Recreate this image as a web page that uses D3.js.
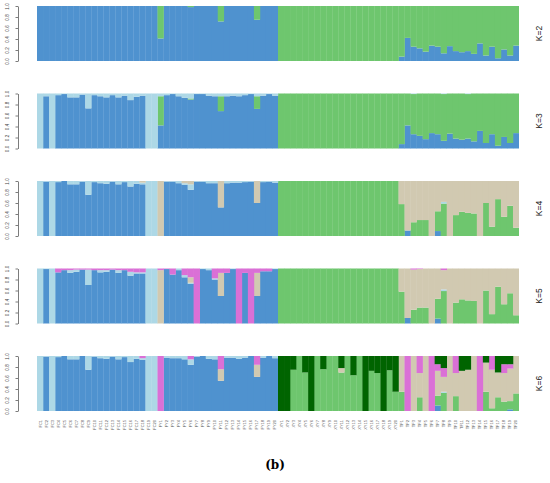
<!DOCTYPE html>
<html>
<head>
<meta charset="utf-8">
<script src="https://cdn.jsdelivr.net/npm/d3@7"></script>
<style>
  body { margin: 0; background: #fff; }
</style>
</head>
<body>
<div id="chart"></div>
<script>
// sample ids, in plot order
const sampleNames = [
  "FC1","FC2","FC3","FC4","FC5","FC6","FC7","FC8","FC9","FC10",
  "FC11","FC12","FC13","FC14","FC15","FC16","FC17","FC18","FC19","FC20",
  "FY1","FY2","FY3","FY4","FY5","FY6","FY7","FY8","FY9","FY10",
  "FY11","FY12","FY13","FY14","FY15","FY16","FY17","FY18","FY19","FY20",
  "XY1","XY2","XY3","XY4","XY5","XY6","XY7","XY8","XY9","XY10",
  "XY11","XY12","XY13","XY14","XY15","XY16","XY17","XY18","XY19","XY20",
  "TF1","TF2","TF3","TF4","TF5","TF6","TF7","TF8","TF9","TF10",
  "TF11","TF12","TF13","TF14","TF15","TF16","TF17","TF18","TF19","TF20"
];

const kValues = [2, 3, 4, 5, 6];

// cluster order (bottom -> top): blue, green, light blue, tan, pink, dark green
const clusterColors = ["#4f92cf", "#6ec66e", "#add8e6", "#d1c9b1", "#da70d6", "#006400"];

// membership coefficients, one row per sample
const q2 = [
  [1,0],[1,0],[1,0],[1,0],[1,0],[1,0],[1,0],[1,0],[1,0],[1,0],
  [1,0],[1,0],[1,0],[1,0],[1,0],[1,0],[1,0],[1,0],[1,0],[1,0],
  [0.41,0.59],[1,0],[1,0],[1,0],[1,0],[0.98,0.02],[1,0],[1,0],[1,0],[1,0],
  [0.72,0.28],[1,0],[1,0],[1,0],[1,0],[1,0],[0.75,0.25],[1,0],[1,0],[1,0],
  [0,1],[0,1],[0,1],[0,1],[0,1],[0,1],[0,1],[0,1],[0,1],[0,1],
  [0,1],[0,1],[0,1],[0,1],[0,1],[0,1],[0,1],[0,1],[0,1],[0,1],
  [0.08,0.92],[0.42,0.58],[0.26,0.74],[0.23,0.77],[0.17,0.83],[0.28,0.72],[0.26,0.74],[0.14,0.86],[0.27,0.73],[0.18,0.82],
  [0.16,0.84],[0.18,0.82],[0.13,0.87],[0.32,0.68],[0.10,0.90],[0.26,0.74],[0.05,0.95],[0.21,0.79],[0.10,0.90],[0.28,0.72]
];

const q3 = [
  [0,0,1],[0.95,0,0.05],[0,0,1],[0.97,0,0.03],[0.99,0,0.01],[0.93,0,0.07],[0.93,0,0.07],[0.98,0,0.02],[0.73,0,0.27],[0.97,0,0.03],
  [0.95,0,0.05],[0.93,0,0.07],[0.97,0,0.03],[0.93,0,0.07],[0.96,0,0.04],[0.88,0,0.12],[0.94,0,0.06],[0.96,0,0.04],[0,0,1],[0,0,1],
  [0.42,0.53,0.05],[0.97,0,0.03],[0.99,0,0.01],[0.95,0,0.05],[0.92,0,0.08],[0.89,0.02,0.09],[0.99,0,0.01],[0.99,0,0.01],[0.96,0,0.04],[0.95,0,0.05],
  [0.68,0.27,0.05],[0.95,0,0.05],[0.96,0,0.04],[0.95,0,0.05],[0.97,0,0.03],[0.99,0,0.01],[0.72,0.23,0.05],[0.96,0,0.04],[0.99,0,0.01],[0.96,0,0.04],
  [0,1,0],[0,1,0],[0,1,0],[0,1,0],[0,1,0],[0,1,0],[0,1,0],[0,1,0],[0,1,0],[0,1,0],
  [0,1,0],[0,1,0],[0,1,0],[0,1,0],[0,1,0],[0,1,0],[0,1,0],[0,1,0],[0,1,0],[0,1,0],
  [0.08,0.92,0],[0.42,0.58,0],[0.26,0.73,0.01],[0.23,0.77,0],[0.17,0.83,0],[0.28,0.72,0],[0.26,0.74,0],[0.14,0.85,0.01],[0.27,0.73,0],[0.18,0.82,0],
  [0.16,0.84,0],[0.18,0.81,0.01],[0.13,0.87,0],[0.32,0.68,0],[0.10,0.90,0],[0.26,0.74,0],[0.05,0.95,0],[0.21,0.79,0],[0.10,0.90,0],[0.28,0.72,0]
];

const q4 = [
  [0,0,1,0],[0.99,0,0.01,0],[0,0,1,0],[0.98,0,0.02,0],[1,0,0,0],[0.94,0,0.06,0],[0.94,0,0.06,0],[0.99,0,0.01,0],[0.75,0,0.25,0],[0.98,0,0.02,0],
  [0.96,0,0.04,0],[0.95,0,0.05,0],[0.99,0,0.01,0],[0.94,0,0.06,0],[0.98,0,0.02,0],[0.90,0,0.10,0],[0.95,0,0.05,0],[0.94,0,0.03,0.03],[0,0,1,0],[0,0,1,0],
  [0,0,0,1],[0.99,0,0.01,0],[0.99,0,0.01,0],[0.96,0,0.04,0],[0.93,0,0.03,0.04],[0.84,0,0.10,0.06],[0.99,0,0.01,0],[0.99,0,0.01,0],[0.96,0,0.04,0],[0.96,0,0.04,0],
  [0.52,0,0,0.48],[0.96,0,0.04,0],[0.97,0,0.03,0],[0.97,0,0.03,0],[0.98,0,0.02,0],[0.99,0,0.01,0],[0.60,0,0,0.40],[0.98,0,0.02,0],[0.99,0,0.01,0],[0.97,0,0.03,0],
  [0,1,0,0],[0,1,0,0],[0,1,0,0],[0,1,0,0],[0,1,0,0],[0,1,0,0],[0,1,0,0],[0,1,0,0],[0,1,0,0],[0,1,0,0],
  [0,1,0,0],[0,1,0,0],[0,1,0,0],[0,1,0,0],[0,1,0,0],[0,1,0,0],[0,1,0,0],[0,1,0,0],[0,1,0,0],[0,1,0,0],
  [0,0.58,0,0.42],[0.10,0,0,0.90],[0,0.25,0,0.75],[0,0.29,0,0.71],[0,0.29,0,0.71],[0,0,0,1],[0.09,0.36,0,0.55],[0,0.59,0.03,0.38],[0,0,0,1],[0,0.38,0,0.62],
  [0,0.44,0,0.56],[0,0.42,0,0.58],[0,0.41,0,0.59],[0,0,0,1],[0,0.60,0,0.40],[0,0.17,0,0.83],[0,0.67,0,0.33],[0,0.35,0,0.65],[0,0.55,0,0.45],[0,0.15,0,0.85]
];

const q5 = [
  [0,0,1,0,0],[0.99,0,0.01,0,0],[0,0,1,0,0],[0.93,0,0,0,0.07],[0.97,0,0,0,0.03],[0.92,0,0.05,0,0.03],[0.94,0,0.04,0,0.02],[0.98,0,0,0,0.02],[0.70,0,0.28,0,0.02],[0.97,0,0,0,0.03],
  [0.93,0,0.04,0,0.03],[0.94,0,0.03,0,0.03],[0.98,0,0,0,0.02],[0.92,0,0.05,0,0.03],[0.97,0,0,0,0.03],[0.87,0,0.07,0,0.06],[0.91,0,0.02,0,0.07],[0.91,0,0.02,0,0.07],[0,0,1,0,0],[0,0,1,0,0],
  [0,0,0,0.97,0.03],[0.99,0,0,0,0.01],[0.89,0,0,0,0.11],[0.97,0,0.03,0,0],[0.84,0,0.04,0,0.12],[0.72,0,0.02,0.10,0.16],[0,0,0,0,1],[0.99,0,0.01,0,0],[0.97,0,0.03,0,0],[0.80,0,0.02,0,0.18],
  [0.50,0,0,0.42,0.08],[0.92,0,0,0,0.08],[0.99,0,0.01,0,0],[0,0,0,0,1],[0.92,0,0,0,0.08],[0,0,0,0,1],[0.50,0,0,0.42,0.08],[0.95,0,0,0,0.05],[0.95,0,0,0,0.05],[0.99,0,0.01,0,0],
  [0,1,0,0,0],[0,1,0,0,0],[0,1,0,0,0],[0,1,0,0,0],[0,1,0,0,0],[0,1,0,0,0],[0,1,0,0,0],[0,1,0,0,0],[0,1,0,0,0],[0,1,0,0,0],
  [0,1,0,0,0],[0,1,0,0,0],[0,1,0,0,0],[0,1,0,0,0],[0,1,0,0,0],[0,1,0,0,0],[0,1,0,0,0],[0,1,0,0,0],[0,1,0,0,0],[0,1,0,0,0],
  [0,0.58,0,0.42,0],[0.10,0,0,0.90,0],[0,0.25,0,0.73,0.02],[0,0.29,0,0.70,0.01],[0,0.29,0,0.71,0],[0,0,0,1,0],[0.09,0.36,0,0.55,0],[0,0.59,0.03,0.35,0.03],[0,0,0,1,0],[0,0.38,0,0.62,0],
  [0,0.44,0,0.56,0],[0,0.42,0,0.58,0],[0,0.41,0,0.59,0],[0,0,0,1,0],[0,0.60,0,0.40,0],[0,0.17,0,0.83,0],[0,0.67,0,0.33,0],[0,0.35,0,0.65,0],[0,0.55,0,0.45,0],[0,0.15,0,0.85,0]
];

const q6 = [
  [0,0,1,0,0,0],[0.99,0,0.01,0,0,0],[0,0,1,0,0,0],[0.98,0,0.02,0,0,0],[1,0,0,0,0,0],[0.94,0,0.06,0,0,0],[0.94,0,0.06,0,0,0],[1,0,0,0,0,0],[0.75,0,0.25,0,0,0],[0.99,0,0.01,0,0,0],
  [0.96,0,0.04,0,0,0],[0.95,0,0.05,0,0,0],[0.99,0,0.01,0,0,0],[0.94,0,0.06,0,0,0],[0.98,0,0.02,0,0,0],[0.89,0,0.11,0,0,0],[0.95,0,0.05,0,0,0],[0.93,0,0.03,0,0.04,0],[0,0,1,0,0,0],[0,0,1,0,0,0],
  [0,0,0,0,1,0],[0.97,0,0.03,0,0,0],[0.96,0,0.04,0,0,0],[0.96,0,0.04,0,0,0],[0.94,0,0.06,0,0,0],[0.84,0,0.10,0,0.06,0],[0.99,0,0.01,0,0,0],[1,0,0,0,0,0],[0.95,0,0.05,0,0,0],[0.94,0,0.06,0,0,0],
  [0.55,0,0,0.21,0.24,0],[0.97,0,0.03,0,0,0],[0.97,0,0.03,0,0,0],[0.95,0,0.05,0,0,0],[0.97,0,0.03,0,0,0],[1,0,0,0,0,0],[0.62,0,0,0.22,0.16,0],[0.97,0,0.03,0,0,0],[1,0,0,0,0,0],[0.96,0,0.04,0,0,0],
  [0,0,0,0,0,1],[0,0,0,0,0,1],[0,0.75,0,0,0,0.25],[0,1,0,0,0,0],[0,0.70,0,0,0,0.30],[0,0,0,0,0,1],[0,1,0,0,0,0],[0,0.76,0,0,0,0.24],[0,1,0,0,0,0],[0,1,0,0,0,0],
  [0,0.70,0,0.08,0,0.22],[0,1,0,0,0,0],[0,0.65,0,0,0,0.35],[0,1,0,0,0,0],[0,0,0,0,0,1],[0,0.73,0,0,0,0.27],[0,0.69,0,0,0,0.31],[0,0,0,0,0,1],[0,0.74,0,0,0,0.26],[0,0.35,0,0,0,0.65],
  [0,0.35,0,0.65,0,0],[0,0,0,0,1,0],[0,0,0,1,0,0],[0,0.25,0,0.44,0.31,0],[0,0,0,1,0,0],[0,0,0,0,1,0],[0.10,0.18,0,0.45,0.12,0.15],[0,0.33,0.02,0.27,0.16,0.22],[0,0,0,1,0,0],[0,0.27,0,0.42,0.31,0],
  [0,0,0,0.73,0,0.27],[0,0,0,0.75,0,0.25],[0,0,0,1,0,0],[0,0,0,0,1,0],[0,0.35,0,0.53,0,0.12],[0,0.05,0,0.70,0.25,0],[0,0.25,0,0.45,0,0.30],[0,0.17,0,0.52,0.16,0.15],[0.03,0.15,0,0.59,0.08,0.15],[0,0.32,0,0.68,0,0]
];

const qByK = [q2, q3, q4, q5, q6];
const yTicks = [0, 0.2, 0.4, 0.6, 0.8, 1.0];

// ---- layout ----
const width = 550;
const height = 483;
const PLOT_LEFT = 37;
const PLOT_RIGHT = 519;
const PANEL_H = 55;
const PANEL_TOPS = [6, 93.5, 181, 268.5, 356];
const AXIS_X = 18;
const BAR_OVERLAP = 0.3; // hides most of the seams between neighbouring bars

const svg = d3.select("#chart")
  .append("svg")
  .attr("width", width)
  .attr("height", height)
  .style("font-family", "Liberation Sans, Arial, sans-serif");

const x = d3.scaleBand()
  .domain(sampleNames)
  .range([PLOT_LEFT, PLOT_RIGHT])
  .padding(0);

qByK.forEach((rows, i) => {
  const K = kValues[i];
  const top = PANEL_TOPS[i];
  const y = d3.scaleLinear().domain([0, 1]).range([top + PANEL_H, top]);

  const series = d3.stack()
    .keys(d3.range(K))
    .value((d, k) => d[k])(rows);

  svg.append("g")
    .selectAll("g")
    .data(series)
    .join("g")
    .attr("fill", (d, k) => clusterColors[k])
    .selectAll("rect")
    .data(d => d.map((v, j) => ({ v: v, name: sampleNames[j], last: j === rows.length - 1 })))
    .join("rect")
    .attr("x", d => x(d.name))
    .attr("width", d => x.bandwidth() + (d.last ? 0 : BAR_OVERLAP))
    .attr("y", d => y(d.v[1]))
    .attr("height", d => Math.max(0, y(d.v[0]) - y(d.v[1])));

  // y axis, R style with rotated tick labels
  const ax = svg.append("g")
    .attr("transform", `translate(${AXIS_X},0)`)
    .call(d3.axisLeft(y)
      .tickValues(yTicks)
      .tickFormat(d3.format(".1f"))
      .tickSize(2.5)
      .tickSizeOuter(0));
  ax.select(".domain").attr("stroke", "#444").attr("stroke-width", 0.7);
  ax.selectAll(".tick line").attr("stroke", "#444").attr("stroke-width", 0.7);
  ax.selectAll(".tick text")
    .attr("x", 0)
    .attr("dy", 0)
    .attr("text-anchor", "middle")
    .attr("transform", "translate(-9,0) rotate(-90)")
    .style("font-size", "4.5px")
    .attr("fill", "#444");

  // K label at the right
  svg.append("text")
    .attr("transform", `translate(541.5,${top + PANEL_H / 2}) rotate(-90)`)
    .attr("text-anchor", "middle")
    .style("font-size", "8.5px")
    .attr("fill", "#222")
    .text("K=" + K);
});

// sample labels under the last panel
const labelTop = PANEL_TOPS[4] + PANEL_H + 9;
svg.append("g")
  .selectAll("text")
  .data(sampleNames)
  .join("text")
  .attr("transform", d => `translate(${x(d) + x.bandwidth() / 2 + 1.5},${labelTop}) rotate(-90)`)
  .attr("text-anchor", "end")
  .style("font-size", "4px")
  .attr("fill", "#555")
  .text(d => d);

// panel caption
svg.append("text")
  .attr("x", 275)
  .attr("y", 469)
  .attr("text-anchor", "middle")
  .style("font-family", "DejaVu Serif, Liberation Serif, serif")
  .style("font-size", "12px")
  .style("font-weight", "bold")
  .text("(b)");
</script>
</body>
</html>
